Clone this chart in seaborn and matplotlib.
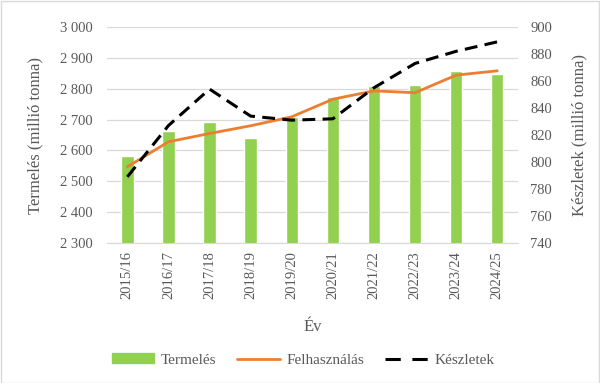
import numpy as np
import pandas as pd
import matplotlib
matplotlib.use('Agg')
import matplotlib.pyplot as plt
from matplotlib.ticker import FuncFormatter, MultipleLocator
from matplotlib.lines import Line2D
from matplotlib.patches import Patch, Rectangle
import seaborn as sns

# data
years = ['2015/16', '2016/17', '2017/18', '2018/19', '2019/20',
         '2020/21', '2021/22', '2022/23', '2023/24', '2024/25']
termeles = [2582, 2663, 2691, 2639, 2709, 2772, 2810, 2812, 2858, 2848]
felhasznalas = [2547, 2628, 2655, 2680, 2709, 2766, 2793, 2787, 2844, 2858]
keszletek = [789, 827, 854, 834, 831, 832, 855, 873, 882, 889]

df = pd.DataFrame({'ev': years, 'termeles': termeles,
                   'felhasznalas': felhasznalas, 'keszletek': keszletek})

sns.set_style('white')
plt.rcParams['font.family'] = ['Liberation Serif', 'DejaVu Serif']
text_col = '#595959'
green = '#92d050'
orange = '#ed7d31'
dash = (0, (4.2, 2.4))

fig = plt.figure(figsize=(6, 3.83), dpi=100)
ax = fig.add_axes([0.178, 0.3655, 0.685, 0.564])

sns.barplot(data=df, x='ev', y='termeles', color=green, width=0.3,
            saturation=1, ax=ax, zorder=2)
sns.lineplot(data=df, x='ev', y='felhasznalas', color=orange, lw=2.0,
             ax=ax, zorder=3)

ax2 = ax.twinx()
sns.lineplot(data=df, x='ev', y='keszletek', color='black', lw=2.2,
             linestyle=dash, ax=ax2, zorder=4)

ax.set_ylim(2300, 3000)
ax.yaxis.set_major_locator(MultipleLocator(100))
ax.yaxis.set_major_formatter(FuncFormatter(lambda v, p: f'{int(v):,}'.replace(',', ' ')))
ax2.set_ylim(740, 900)
ax2.yaxis.set_major_locator(MultipleLocator(20))
ax.set_xlim(-0.5, len(years) - 0.5)

ax.grid(axis='y', color='#d9d9d9', lw=0.9, zorder=0)
ax.set_axisbelow(True)
for a in (ax, ax2):
    for s in a.spines.values():
        s.set_visible(False)
    a.tick_params(length=0, labelsize=10.5, colors=text_col)
ax.spines['bottom'].set_visible(True)
ax.spines['bottom'].set_color('#d9d9d9')
ax.tick_params(axis='x', rotation=90, pad=6)
ax.tick_params(axis='y', pad=10)
ax2.tick_params(axis='y', pad=9)

ax.set_xlabel('Év', fontsize=12, color=text_col, labelpad=14)
ax.set_ylabel('Termelés (millió tonna)', fontsize=12, color=text_col, labelpad=12)
ax2.set_ylabel('Készletek (millió tonna)', fontsize=12, color=text_col, labelpad=14)

# legend with a two-dash handle like the original
handles = [Patch(color=green),
           Line2D([], [], color=orange, lw=2.0),
           Line2D([], [], color='black', lw=2.2, linestyle=(0, (5, 3.8)))]
fig.legend(handles, ['Termelés', 'Felhasználás', 'Készletek'],
           loc='center', bbox_to_anchor=(0.505, 0.06), ncol=3, frameon=False,
           fontsize=11, labelcolor=text_col, handlelength=2.8,
           handleheight=0.6, columnspacing=1.4, handletextpad=0.4)

fig.patches.append(Rectangle((0.001, 0.001), 0.997, 0.996, transform=fig.transFigure,
                             fill=False, edgecolor='#d9d9d9', lw=1))

fig.savefig('out.png', dpi=100)
